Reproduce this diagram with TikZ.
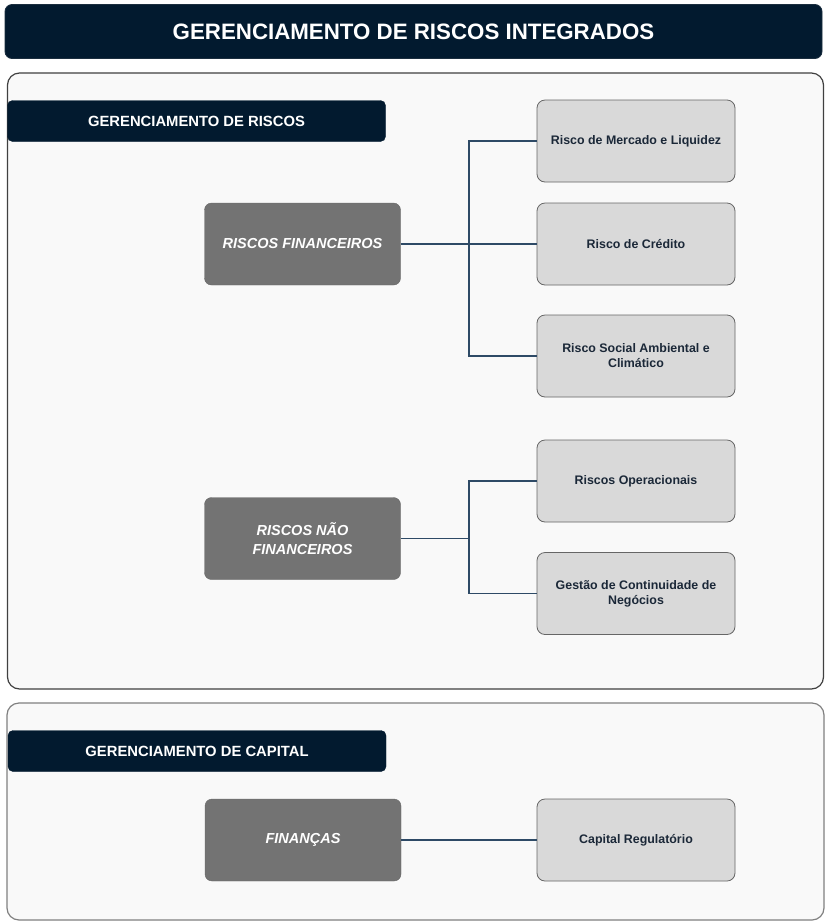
\documentclass[tikz,border=0pt]{standalone}
\usepackage{fontspec}
\setmainfont{Liberation Sans}
\definecolor{navy}{HTML}{021A2F}
\definecolor{darkbox}{HTML}{737373}
\definecolor{lightbox}{HTML}{D9D9D9}
\definecolor{boxline}{HTML}{666666}
\definecolor{panel}{HTML}{F9F9F9}
\definecolor{linkc}{HTML}{2E4A66}
\definecolor{txtc}{HTML}{1B2838}
\begin{document}
\begin{tikzpicture}[x=1pt,y=-1pt,
  titlebar/.style={draw=navy!80!gray,fill=navy,rounded corners=7pt,line width=0.8pt},
  panelbox/.style={fill=panel,rounded corners=12pt,line width=1.2pt},
  headbar/.style={fill=navy,rounded corners=5pt,draw=navy,minimum width=378pt,minimum height=41pt,inner sep=0pt,
    text=white,font=\fontsize{14.8}{17}\selectfont\bfseries},
  catbox/.style={fill=darkbox,draw=darkbox!90!black,rounded corners=7pt,minimum width=196pt,minimum height=82pt,inner sep=2pt,
    text=white,align=center,font=\fontsize{14.5}{19}\selectfont\bfseries\itshape},
  itembox/.style={fill=lightbox,draw=boxline,line width=0.8pt,rounded corners=8pt,minimum width=198pt,minimum height=82pt,inner sep=2pt,
    text=txtc,align=center,font=\fontsize{12.4}{15}\selectfont\bfseries},
  link/.style={draw=linkc,line width=1.3pt}]
\useasboundingbox (0,0) rectangle (825,922);
\fill[white] (0,0) rectangle (825,922);
% title
\node[titlebar,minimum width=817pt,minimum height=54pt,inner sep=0pt,text=white,font=\fontsize{22.3}{24}\selectfont\bfseries] (title) at (413.5,31.5) {GERENCIAMENTO DE RISCOS INTEGRADOS};
% panels
\node[panelbox,draw=black!75,minimum width=816pt,minimum height=616pt,inner sep=0pt] (p1) at (415.5,381) {};
\node[panelbox,draw=black!50,minimum width=817pt,minimum height=217pt,inner sep=0pt] (p2) at (415.5,811.5) {};
% headers
\node[headbar] (h1) at (196.5,121) {GERENCIAMENTO DE RISCOS};
\node[headbar] (h2) at (197,751) {GERENCIAMENTO DE CAPITAL};
% category boxes
\node[catbox] (fin) at (302.5,244) {RISCOS FINANCEIROS};
\node[catbox] (nfin) at (302.5,538.5) {RISCOS NÃO\\FINANCEIROS};
\node[catbox] (fnc) at (303,840) {FINANÇAS};
% item boxes
\node[itembox] (mer) at (636,141) {Risco de Mercado e Liquidez};
\node[itembox] (cre) at (636,244) {Risco de Crédito};
\node[itembox] (soc) at (636,356) {Risco Social Ambiental e\\Climático};
\node[itembox] (ope) at (636,481) {Riscos Operacionais};
\node[itembox] (ges) at (636,593.5) {Gestão de Continuidade de\\Negócios};
\node[itembox] (cap) at (636,840) {Capital Regulatório};
% junctions
\coordinate (j1) at (469,244);
\coordinate (j2) at (469,538.5);
% connectors
\draw[link] (fin.east) -- (cre.west);
\draw[link] (mer.west) -| (j1);
\draw[link] (j1) |- (soc.west);
\draw[link] (nfin.east) -- (j2);
\draw[link] (ope.west) -| (j2);
\draw[link] (j2) |- (ges.west);
\draw[link] (fnc.east) -- (cap.west);
\end{tikzpicture}
\end{document}
